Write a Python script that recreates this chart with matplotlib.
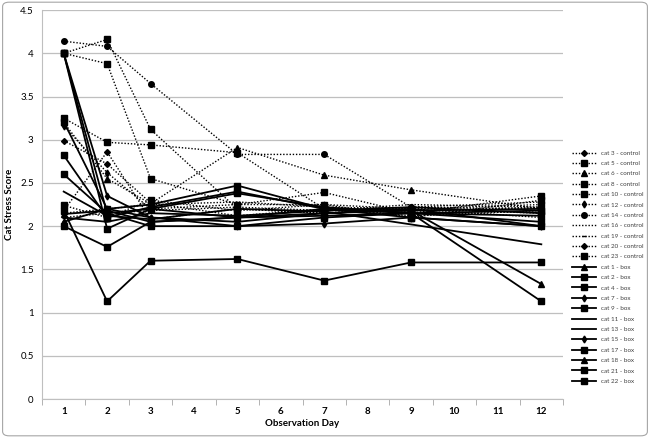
import numpy as np
import matplotlib.pyplot as plt
from matplotlib.patches import FancyBboxPatch

plt.rcParams['font.family'] = ['Lato', 'DejaVu Sans']

# Observation days that carry data, and every day shown on the axis
days = [1, 2, 3, 5, 7, 9, 12]
all_days = list(range(1, 13))

# Control cats (dotted lines)
control = {
    'cat 3 - control':  ('D', [2.99, 2.72, 2.27, 2.12, 2.20, 2.18, 2.22]),
    'cat 5 - control':  ('s', [4.00, 4.16, 3.12, 2.20, 2.15, 2.20, 2.25]),
    'cat 6 - control':  ('^', [3.20, 2.55, 2.26, 2.91, 2.59, 2.42, 2.20]),
    'cat 8 - control':  ('s', [4.00, 3.88, 2.55, 2.25, 2.39, 2.15, 2.35]),
    'cat 10 - control': ('s', [3.25, 2.97, 2.94, 2.85, 2.20, 2.12, 2.18]),
    'cat 12 - control': ('d', [3.16, 2.62, 2.20, 2.25, 2.25, 2.20, 2.10]),
    'cat 14 - control': ('o', [4.14, 4.08, 3.65, 2.83, 2.83, 2.22, 2.20]),
    'cat 16 - control': ('',  [2.15, 2.20, 2.25, 2.28, 2.22, 2.20, 2.15]),
    'cat 19 - control': ('_', [2.10, 2.15, 2.18, 2.22, 2.18, 2.25, 2.22]),
    'cat 20 - control': ('D', [2.18, 2.86, 2.08, 2.20, 2.15, 2.22, 2.28]),
    'cat 23 - control': ('s', [2.24, 2.10, 2.30, 2.18, 2.25, 2.10, 2.30]),
}

# Box cats (solid lines)
box = {
    'cat 1 - box':  ('^', [2.14, 2.18, 2.05, 2.10, 2.15, 2.18, 2.20]),
    'cat 2 - box':  ('s', [2.60, 2.15, 2.00, 2.00, 2.10, 2.15, 2.05]),
    'cat 4 - box':  ('s', [2.82, 2.10, 2.22, 2.40, 2.20, 2.10, 2.00]),
    'cat 7 - box':  ('d', [4.00, 2.35, 2.10, 2.05, 2.15, 2.20, 2.00]),
    'cat 9 - box':  ('s', [2.18, 1.13, 1.60, 1.62, 1.37, 1.58, 1.58]),
    'cat 11 - box': ('',  [2.40, 2.12, 2.08, 2.20, 2.17, 2.02, 1.79]),
    'cat 13 - box': ('',  [2.10, 2.05, 2.15, 2.12, 2.18, 2.22, 2.15]),
    'cat 15 - box': ('d', [2.05, 2.20, 2.10, 2.00, 2.03, 2.10, 2.00]),
    'cat 17 - box': ('s', [3.21, 2.20, 2.25, 2.47, 2.20, 2.15, 2.18]),
    'cat 18 - box': ('^', [4.00, 2.15, 2.20, 2.10, 2.20, 2.18, 1.33]),
    'cat 21 - box': ('s', [4.00, 1.97, 2.20, 2.38, 2.22, 2.15, 2.12]),
    'cat 22 - box': ('s', [2.00, 1.76, 2.05, 2.10, 2.12, 2.15, 1.13]),
}

fig = plt.figure(figsize=(6.5, 4.38), dpi=100)
ax = fig.add_axes([0.0646, 0.089, 0.8016, 0.888])

# rounded outer border like the spreadsheet chart
fig.patches.append(FancyBboxPatch((0.004, 0.005), 0.992, 0.99, boxstyle='round,pad=0,rounding_size=0.01',
                                  transform=fig.transFigure, fill=False, edgecolor='#a6a6a6', linewidth=0.8))

def msize(m):
    if m in ('d', '_'):
        return 3.5
    if m == 'D':
        return 3
    return 4

for name, (m, vals) in control.items():
    ax.plot(days, vals, color='black', linestyle=(0, (1, 1.3)), linewidth=1.0,
            marker=m if m else None, markersize=msize(m), label=name)

for name, (m, vals) in box.items():
    ax.plot(days, vals, color='black', linestyle='-', linewidth=1.3,
            marker=m if m else None, markersize=msize(m), label=name)

ax.set_xlim(0.5, 12.5)
ax.set_ylim(0, 4.5)
ax.set_yticks(np.arange(0, 4.51, 0.5))
ax.set_yticklabels(['0', '0.5', '1', '1.5', '2', '2.5', '3', '3.5', '4', '4.5'], fontsize=7)
ax.set_xticks(all_days)
ax.set_xticklabels([str(d) for d in all_days], fontsize=7, fontweight='bold')
ax.set_xticks(np.arange(0.5, 12.6, 1), minor=True)
ax.tick_params(axis='x', which='major', length=0, pad=6)
ax.tick_params(axis='x', which='minor', length=4, color='#a6a6a6', direction='out')
ax.tick_params(axis='y', length=0, pad=6)

ax.grid(axis='y', color='#bfbfbf', linewidth=0.9)
ax.set_axisbelow(True)
for s in ['top', 'right']:
    ax.spines[s].set_visible(False)
ax.spines['left'].set_color('#bfbfbf')
ax.spines['bottom'].set_color('#bfbfbf')

ax.set_xlabel('Observation Day', fontsize=7, fontweight='bold', labelpad=2)
ax.set_ylabel('Cat Stress Score', fontsize=7, fontweight='bold', labelpad=4)

leg = ax.legend(loc='center left', bbox_to_anchor=(0.880, 0.39, 0.1, 0.0), bbox_transform=fig.transFigure,
                frameon=False, fontsize=4.5, handlelength=3.9, handletextpad=0.7, labelspacing=0.8,
                borderaxespad=0, borderpad=0)
for t in leg.get_texts():
    t.set_color('#404040')

fig.savefig('out.png', dpi=100)
